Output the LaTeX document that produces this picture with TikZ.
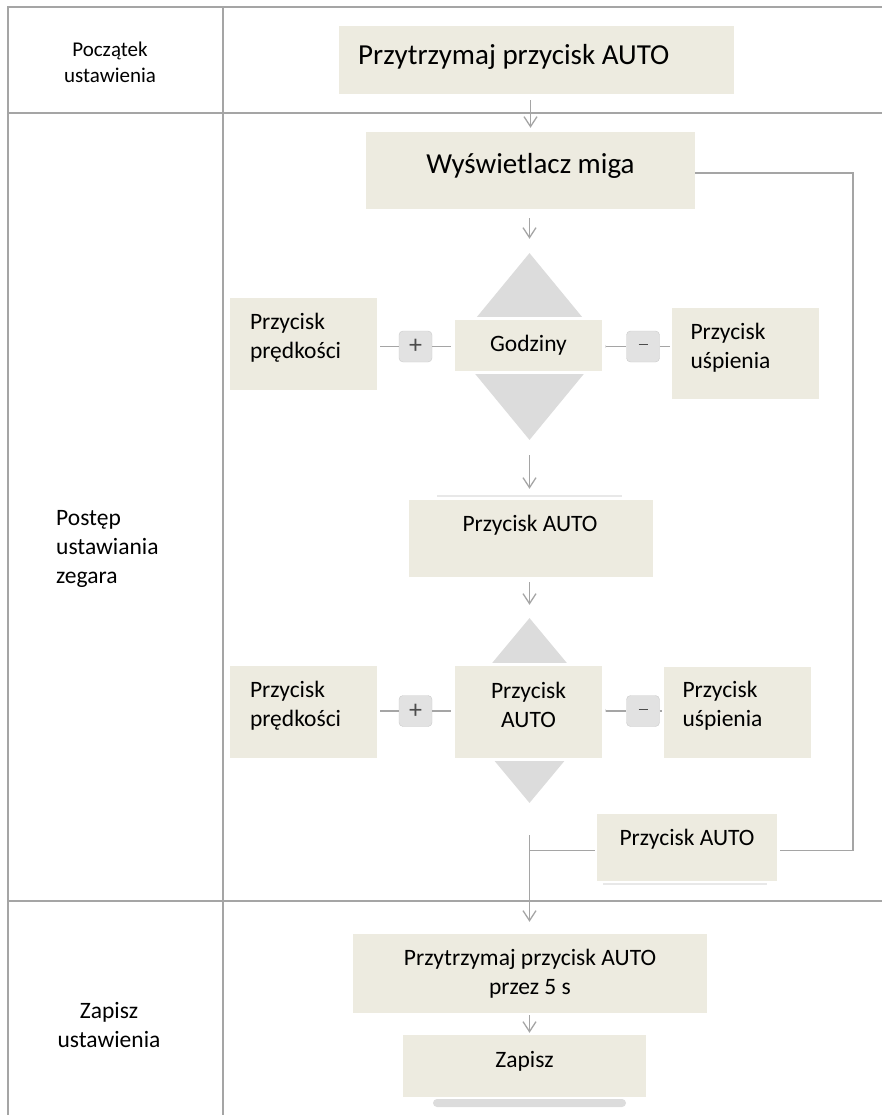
\documentclass[tikz,border=0pt]{standalone}
\usepackage{fontspec}
\setmainfont{Carlito}
\usetikzlibrary{positioning,shapes.geometric,arrows.meta}

\definecolor{boxfill}{RGB}{237,235,224}
\definecolor{diafill}{RGB}{220,220,220}
\definecolor{btnfill}{RGB}{226,226,226}
\definecolor{linegray}{RGB}{165,165,165}
\definecolor{shadowgray}{RGB}{232,232,232}

\begin{document}
\begin{tikzpicture}[x=1pt, y=-1pt,
    box/.style={fill=boxfill, inner sep=0pt},
    cbox/.style={box, draw=white, line width=3pt},
    dia/.style={diamond, fill=diafill, inner sep=0pt, minimum width=154pt},
    btn/.style={fill=btnfill, draw=btnfill!90!black, line width=0.4pt, rounded corners=4pt,
      minimum width=33pt, minimum height=31pt, inner sep=0pt, text=black!70,
      font=\fontsize{26}{30}\selectfont},
    txtXL/.style={font=\fontsize{29}{35}\selectfont, inner sep=0pt},
    txtM/.style={font=\fontsize{23.5}{28.6}\selectfont, inner sep=0pt},
    txtS/.style={font=\fontsize{21}{25.6}\selectfont, inner sep=0pt},
    link/.style={draw=linegray, line width=1.3pt},
    flow/.style={link, -{Straight Barb[length=10pt,width=13pt]}},
    lane/.style={draw=linegray, line width=1.5pt}]

    \useasboundingbox (0,0) rectangle (882,1115);

    % Table
    \draw[lane] (8,1115) -- (8,7) -- (882,7);
    \draw[lane] (223,7) -- (223,1115);
    \draw[lane] (8,113) -- (882,113);
    \draw[lane] (8,901) -- (882,901);

    \node[txtS, align=center] (lab1) at (110,62.5) {Początek\\ustawienia};
    \node[txtM, align=left, anchor=west] (lab2) at (56,549) {Postęp\\ustawiania\\zegara};
    \node[txtM, align=center] (lab3) at (109,1025) {Zapisz\\ustawienia};

    % Start
    \node[box, minimum width=395pt, minimum height=68pt] (hold1) at (536.5,60) {};
    \node[txtXL, anchor=west] (hold1T) at (358,57) {Przytrzymaj przycisk AUTO};

    \node[box, minimum width=329pt, minimum height=77pt] (blink) at (530.5,170.5) {};
    \node[txtXL] (blinkT) at (530.5,166) {Wyświetlacz miga};

    % Diamonds and their middle boxes
    \node[dia, minimum height=187pt] (dia1) at (529.5,346.5) {};
    \node[dia, minimum height=185pt] (dia2) at (529.5,710.5) {};
    \node[cbox, txtM, minimum width=150pt, minimum height=54pt] (ctr1) at (528.5,345.5) {Godziny};
    \node[cbox, minimum width=150pt, minimum height=95pt] (ctr2) at (528.5,712) {};
    \node[txtM, align=center] (ctr2T) at (528.5,705) {Przycisk\\AUTO};

    \foreach \n/\yl/\yb/\yr/\xr in {1/344/346.5/353.5/745.5, 2/712/711/712/737.5} {
      \node[box, minimum width=147pt, minimum height=92pt] (speed\n) at (303.5,\yl) {};
      \node[txtM, align=left, anchor=west] (speedT\n) at ([shift={(20,-6)}]speed\n.west) {Przycisk\\prędkości};
      \node[btn] (plus\n) at (415.5,\yb) {+};
      \node[btn] (minus\n) at (643,\yb) {\rule[3.5pt]{9pt}{1.3pt}};
      \node[box, minimum width=147pt, minimum height=91pt] (sleep\n) at (\xr,\yr) {};
      \node[txtM, align=left, anchor=west] (sleepT\n) at ([shift={(18.5,-6)}]sleep\n.west) {Przycisk\\uśpienia};

      \draw[link, shorten <=3pt] (plus\n.west -| speed\n.east) -- (plus\n.west);
      \draw[link, shorten >=1pt] (plus\n.east) -- (plus\n.east -| ctr\n.west);
      \draw[link, shorten <=1pt] (minus\n.west -| ctr\n.east) -- (minus\n.west);
      \draw[link, shorten >=2pt] (minus\n.east) -- (minus\n.east -| sleep\n.west);
    }

    \draw[shadowgray, line width=1.5pt] (437,496) -- (622,496);
    \node[box, minimum width=244pt, minimum height=77pt] (auto1) at (531,538.5) {};
    \node[txtM] (auto1T) at (530,525) {Przycisk AUTO};

    \draw[shadowgray, line width=1.5pt] (603,884) -- (767,884);
    \node[box, minimum width=180pt, minimum height=67pt] (auto2) at (687,847.5) {};
    \node[txtM] (auto2T) at (687,839) {Przycisk AUTO};

    % Save
    \node[box, txtM, align=center, minimum width=354pt, minimum height=79pt] (hold2) at (530,973.5) {Przytrzymaj przycisk AUTO\\przez 5 s};
    \fill[diafill, rounded corners=4pt] (433,1099) rectangle (626,1107);
    \node[box, minimum width=243pt, minimum height=62pt] (save) at (524.5,1066) {};
    \node[txtM] (saveT) at (524.5,1061) {Zapisz};

    % Flow down the middle
    \draw[flow, shorten <=6pt, shorten >=4pt] (blink.north |- hold1.south) -- (blink.north);
    \draw[flow, shorten <=9pt, shorten >=14pt] (blink.south -| dia1.north) -- (dia1.north);
    \draw[flow, shorten <=15pt, shorten >=11pt] (dia1.south) -- (dia1.south |- auto1.north);
    \draw[flow, shorten <=5pt, shorten >=13pt] (dia1.south |- auto1.south) -- (dia2.north);
    \draw[flow, shorten <=32pt, shorten >=12pt] (dia2.south) -- (dia2.south |- hold2.north);
    \draw[link, shorten <=2pt] ([yshift=-3pt]auto2.west) -- ([yshift=-3pt]auto2.west -| dia2.south);
    \draw[flow, shorten <=2pt, shorten >=2pt] (hold2.south -| dia2.south) -- (dia2.south |- save.north);

    % Loop back
    \coordinate (loopR) at (853,173);
    \draw[link, shorten >=3pt] (blink.east |- loopR) -- (loopR) |- ([yshift=-3pt]auto2.east);

\end{tikzpicture}
\end{document}
